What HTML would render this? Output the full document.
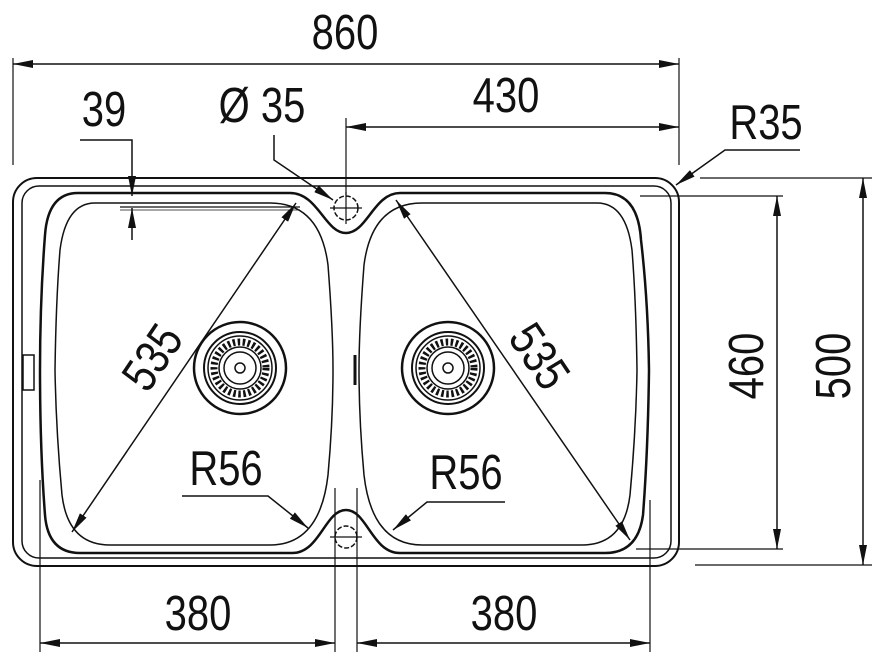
<!DOCTYPE html>
<html><head><meta charset="utf-8"><style>
html,body{margin:0;padding:0;background:#fff;}
svg{display:block;}
text{font-family:"Liberation Sans",sans-serif;font-size:40px;fill:#111;}
</style></head><body>
<svg width="880" height="664" viewBox="0 0 880 664" xmlns="http://www.w3.org/2000/svg">
<defs>
<marker id="a" viewBox="0 0 20 8" refX="20" refY="4" markerWidth="20" markerHeight="8" markerUnits="userSpaceOnUse" orient="auto-start-reverse">
<path d="M0,0 L20,4 L0,8 Z" fill="#111"/></marker>
<g id="drain">
<circle r="46" fill="none" stroke="#111" stroke-width="2.5"/>
<circle r="36" fill="none" stroke="#111" stroke-width="2"/>
<circle r="32" fill="none" stroke="#111" stroke-width="1.5"/>
<circle r="26" fill="none" stroke="#111" stroke-width="7" stroke-dasharray="2.5 2.5"/>
<circle r="21" fill="none" stroke="#111" stroke-width="1.5"/>
<circle r="16" fill="none" stroke="#111" stroke-width="1.5"/>
<circle r="5" fill="none" stroke="#111" stroke-width="1.5"/>
</g>
</defs>
<g fill="none" stroke="#111">
<rect x="13" y="178" width="666" height="388" rx="24" stroke-width="2"/>
<rect x="22" y="186" width="649" height="372" rx="17" stroke-width="1.5"/>
<rect x="23" y="355" width="11" height="35" stroke-width="1.5"/>
<path d="M78,193 H290 C318,193 325,233 346,233 C367,233 374,193 400,193 H605 Q638,193 641,240 Q648,300 649,370 Q648,450 643,515 Q638,553 605,553 H400 C372,553 367,510 346,510 C325,510 320,553 292,553 H80 Q48,553 45,515 Q40,450 40,370 Q40,300 45,235 Q48,193 78,193 Z" stroke-width="2.5"/>
<path d="M95,203 H270 Q320,203 328,265 Q333,330 333,370 Q333,420 328,475 Q320,545 270,545 H110 Q68,545 62,495 Q56,430 55,370 Q56,300 60,250 Q66,203 95,203 Z" stroke-width="1.5"/>
<path d="M95,203 H270 Q320,203 328,265 Q333,330 333,370 Q333,420 328,475 Q320,545 270,545 H110 Q68,545 62,495 Q56,430 55,370 Q56,300 60,250 Q66,203 95,203 Z" stroke-width="1.5" transform="translate(692,0) scale(-1,1)"/>
<line x1="355" y1="355" x2="355" y2="385" stroke-width="3"/>
<circle cx="346" cy="208" r="12" stroke-width="1.5" stroke-dasharray="5 2"/>
<line x1="330" y1="208" x2="362" y2="208" stroke-width="1.2"/>
<line x1="346" y1="192" x2="346" y2="224" stroke-width="1.2"/>
<circle cx="346" cy="537" r="11" stroke-width="1.5" stroke-dasharray="5 2"/>
<line x1="330" y1="537" x2="362" y2="537" stroke-width="1.2"/>
<line x1="120" y1="207" x2="300" y2="207" stroke-width="1.2"/>
<line x1="120" y1="210" x2="300" y2="210" stroke-width="0.8"/>
<line x1="13" y1="58" x2="13" y2="165" stroke-width="1.2"/>
<line x1="679" y1="58" x2="679" y2="165" stroke-width="1.2"/>
<line x1="13" y1="64" x2="679" y2="64" stroke-width="1.5" marker-start="url(#a)" marker-end="url(#a)"/>
<line x1="346" y1="118" x2="346" y2="195" stroke-width="1.2"/>
<line x1="346" y1="127" x2="679" y2="127" stroke-width="1.5" marker-start="url(#a)" marker-end="url(#a)"/>
<polyline points="80,140 132,140 132,196" stroke-width="1.5" marker-end="url(#a)"/>
<line x1="132" y1="240" x2="132" y2="208" stroke-width="1.5" marker-end="url(#a)"/>
<polyline points="274,135 274,160 333,200" stroke-width="1.5" marker-end="url(#a)"/>
<polyline points="800,150 725,150 676,185" stroke-width="1.5" marker-end="url(#a)"/>
<line x1="72" y1="532" x2="296" y2="203" stroke-width="1.5" marker-start="url(#a)" marker-end="url(#a)"/>
<line x1="396" y1="200" x2="630" y2="540" stroke-width="1.5" marker-start="url(#a)" marker-end="url(#a)"/>
<polyline points="182,496 268,496 308,528" stroke-width="1.5" marker-end="url(#a)"/>
<polyline points="505,502 427,502 393,530" stroke-width="1.5" marker-end="url(#a)"/>
<line x1="640" y1="196" x2="783" y2="196" stroke-width="1.2"/>
<line x1="636" y1="549" x2="783" y2="549" stroke-width="1.2"/>
<line x1="777" y1="196" x2="777" y2="549" stroke-width="1.5" marker-start="url(#a)" marker-end="url(#a)"/>
<line x1="700" y1="178" x2="872" y2="178" stroke-width="1.2"/>
<line x1="695" y1="565" x2="872" y2="565" stroke-width="1.2"/>
<line x1="863" y1="178" x2="863" y2="565" stroke-width="1.5" marker-start="url(#a)" marker-end="url(#a)"/>
<line x1="40" y1="480" x2="40" y2="652" stroke-width="1.2"/>
<line x1="335" y1="488" x2="335" y2="652" stroke-width="1.2"/>
<line x1="357" y1="488" x2="357" y2="652" stroke-width="1.2"/>
<line x1="650" y1="500" x2="650" y2="652" stroke-width="1.2"/>
<line x1="40" y1="643" x2="335" y2="643" stroke-width="1.5" marker-start="url(#a)" marker-end="url(#a)"/>
<line x1="357" y1="643" x2="650" y2="643" stroke-width="1.5" marker-start="url(#a)" marker-end="url(#a)"/>
</g>
<use href="#drain" x="240" y="368"/>
<use href="#drain" x="448" y="368"/>
<text transform="translate(345,49) scale(1,1.22)" text-anchor="middle">860</text>
<text transform="translate(506,112) scale(1,1.22)" text-anchor="middle">430</text>
<text transform="translate(104,126) scale(1,1.22)" text-anchor="middle">39</text>
<text transform="translate(262,122) scale(1,1.22)" text-anchor="middle">Ø 35</text>
<text transform="translate(766,139) scale(1,1.22)" text-anchor="middle">R35</text>
<text transform="translate(226,485) scale(1,1.22)" text-anchor="middle">R56</text>
<text transform="translate(466,489) scale(1,1.22)" text-anchor="middle">R56</text>
<text transform="translate(198,630) scale(1,1.22)" text-anchor="middle">380</text>
<text transform="translate(504,630) scale(1,1.22)" text-anchor="middle">380</text>
<text transform="translate(152,357) rotate(-56) scale(1,1.22)" text-anchor="middle" dy="14">535</text>
<text transform="translate(540,356) rotate(56) scale(1,1.22)" text-anchor="middle" dy="14">535</text>
<text transform="translate(746,366) rotate(-90) scale(1,1.22)" text-anchor="middle" dy="14">460</text>
<text transform="translate(833,366) rotate(-90) scale(1,1.22)" text-anchor="middle" dy="14">500</text>
</svg>
</body></html>
